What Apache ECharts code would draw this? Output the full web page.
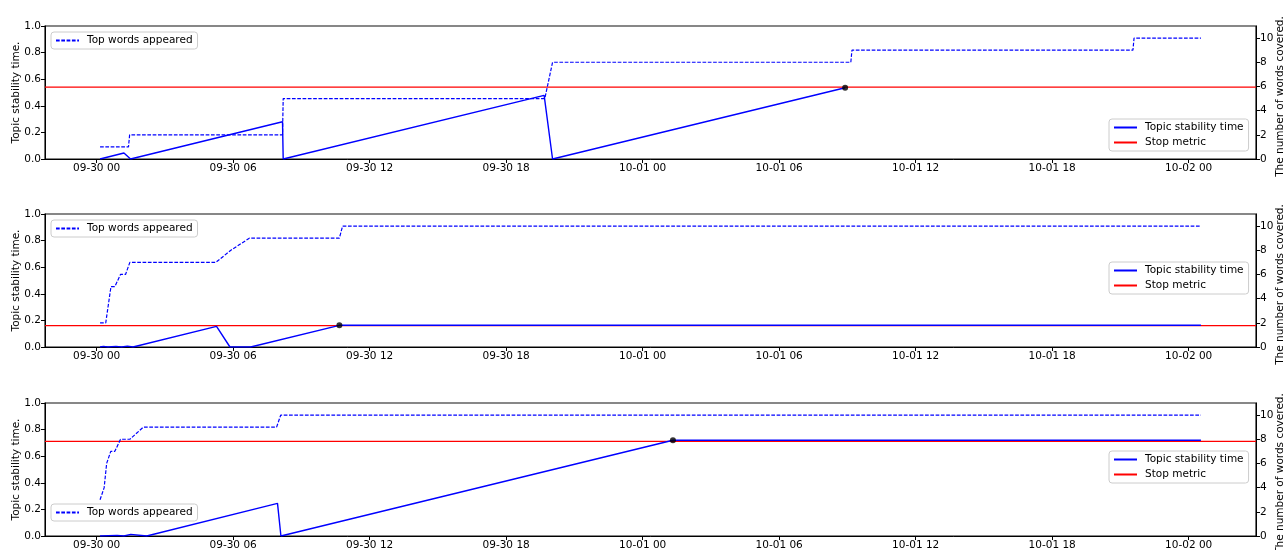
<!DOCTYPE html>
<html>
<head>
<meta charset="utf-8">
<title>Topic stability</title>
<script src="https://cdn.jsdelivr.net/npm/echarts@6/dist/echarts.min.js"></script>
<style>
  html, body { margin: 0; padding: 0; background: #fff; }
  #topicStability { width: 1284px; height: 550px; }
</style>
</head>
<body>
<div id="topicStability"></div>
<script>
// x values are hours after 09-30 00:00
const tickHours = [0, 6, 12, 18, 24, 30, 36, 42, 48];
const rightTicks = [0, 2, 4, 6, 8, 10];
const stopMetric = [0.54, 0.16, 0.712];

// [hour, number of top words covered]
const words1 = [[0.15, 1], [1.40, 1], [1.45, 2], [8.17, 2], [8.2, 5], [19.7, 5], [20.04, 8],
  [33.15, 8], [33.2, 9], [45.55, 9], [45.6, 10], [48.54, 10]];
const words2 = [[0.15, 2], [0.40, 2], [0.63, 5], [0.80, 5], [1.05, 6], [1.27, 6], [1.46, 7],
  [5.24, 7], [5.9, 8], [6.71, 9], [10.67, 9], [10.81, 10], [48.54, 10]];
const words3 = [[0.15, 3], [0.33, 4], [0.44, 6], [0.62, 7], [0.80, 7], [1.05, 8], [1.46, 8],
  [2.05, 9], [7.91, 9], [8.09, 10], [48.54, 10]];

// [hour, topic stability time]
const stab1 = [[0.15, 0], [1.2, 0.045], [1.49, 0], [8.17, 0.28], [8.2, 0], [19.67, 0.478],
  [20.04, 0], [32.9, 0.536]];
const stab2 = [[0.15, 0], [0.3, 0.005], [0.5, 0], [0.85, 0.005], [1.1, 0], [1.35, 0.007],
  [1.6, 0], [5.27, 0.155], [5.86, 0], [6.77, 0], [10.67, 0.163], [48.54, 0.163]];
const stab3 = [[0.15, 0], [0.9, 0.005], [1.2, 0], [1.5, 0.012], [2.2, 0], [7.95, 0.245],
  [8.1, 0], [25.33, 0.72], [48.54, 0.72]];

// where the stability time reached the stop metric
const stopPoints = [[32.9, 0.536], [10.67, 0.163], [25.33, 0.72]];

const wordsList = [words1, words2, words3];
const stabList = [stab1, stab2, stab3];

const T0 = new Date(2019, 8, 30, 0, 0, 0).getTime();
const H = 3600 * 1000;
const pad = n => (n < 10 ? '0' : '') + n;
const fmtHour = h => {
  const d = new Date(T0 + h * H);
  return pad(d.getMonth() + 1) + '-' + pad(d.getDate()) + ' ' + pad(d.getHours());
};

const FONT = 'DejaVu Sans';
const xMin = -2.27, xMax = 50.96;
const gridLeft = 45, gridRight = 28, gridHeight = 133;
const gridTops = [26, 214, 403];
const leftLegendTops = [32, 220, 504];
const rightLegendTops = [119, 262, 451];

const grids = [], xAxes = [], yAxes = [], series = [], legends = [], texts = [];
for (let i = 0; i < 3; i++) {
  grids.push({
    left: gridLeft, right: gridRight, top: gridTops[i], height: gridHeight,
    containLabel: false, outerBoundsMode: 'none',
    show: true, borderColor: '#111', borderWidth: 1.2, backgroundColor: 'transparent'
  });
  xAxes.push({
    type: 'value', gridIndex: i,
    min: xMin, max: xMax,
    axisLine: { show: true, onZero: false, lineStyle: { color: '#000', width: 1 } },
    axisTick: { show: true, length: 4, customValues: tickHours, lineStyle: { color: '#000' } },
    axisLabel: { customValues: tickHours, formatter: fmtHour, color: '#000',
      fontSize: 10.5, fontFamily: FONT, margin: 4 },
    splitLine: { show: false }
  });
  yAxes.push({
    type: 'value', gridIndex: i, position: 'left',
    min: 0, max: 1, interval: 0.2,
    axisLine: { show: true, onZero: false, lineStyle: { color: '#000', width: 1 } },
    axisTick: { show: true, length: 4, lineStyle: { color: '#000' } },
    axisLabel: { formatter: v => v.toFixed(1), color: '#000', fontSize: 10.5, fontFamily: FONT, margin: 4 },
    splitLine: { show: false }
  });
  yAxes.push({
    type: 'value', gridIndex: i, position: 'right',
    min: 0, max: 11,
    axisLine: { show: true, onZero: false, lineStyle: { color: '#000', width: 1 } },
    axisTick: { show: true, length: 4, customValues: rightTicks, lineStyle: { color: '#000' } },
    axisLabel: { customValues: rightTicks, color: '#000', fontSize: 10.5, fontFamily: FONT, margin: 4 },
    splitLine: { show: false }
  });

  // axis titles
  const mid = gridTops[i] + gridHeight / 2;
  texts.push({
    type: 'text', x: 16, y: mid, rotation: Math.PI / 2, silent: true,
    style: { text: 'Topic stability time.', fill: '#000', align: 'center', verticalAlign: 'middle',
      font: '10.5px "DejaVu Sans"' }
  });
  texts.push({
    type: 'text', x: 1280, y: mid + 4, rotation: Math.PI / 2, silent: true,
    style: { text: 'The number of words covered.', fill: '#000', align: 'center', verticalAlign: 'middle',
      font: '10.5px "DejaVu Sans"' }
  });

  series.push({
    name: 'Top words appeared', type: 'line',
    xAxisIndex: i, yAxisIndex: 2 * i + 1,
    data: wordsList[i],
    symbol: 'none',
    itemStyle: { color: '#0000ff' },
    lineStyle: { color: '#0000ff', width: 1.2, type: [3.7, 1.6] }
  });
  // horizontal stop metric line across the whole axis range
  series.push({
    name: 'Stop metric', type: 'line',
    xAxisIndex: i, yAxisIndex: 2 * i,
    data: [[xMin, stopMetric[i]], [xMax, stopMetric[i]]],
    symbol: 'none', z: 2,
    itemStyle: { color: '#ff0000' },
    lineStyle: { color: '#ff0000', width: 1.2 }
  });
  series.push({
    name: 'Topic stability time', type: 'line',
    xAxisIndex: i, yAxisIndex: 2 * i,
    data: stabList[i],
    symbol: 'none', z: 3,
    itemStyle: { color: '#0000ff' },
    lineStyle: { color: '#0000ff', width: 1.4 }
  });
  series.push({
    name: 'stop point', type: 'scatter',
    xAxisIndex: i, yAxisIndex: 2 * i,
    data: [stopPoints[i]],
    symbolSize: 6, z: 5,
    itemStyle: { color: '#000' }
  });

  const legendBase = {
    selectedMode: false,
    itemWidth: 23, itemHeight: 10, itemGap: 4,
    padding: [3, 5, 3, 4],
    backgroundColor: 'rgba(255,255,255,0.8)',
    borderColor: '#cccccc', borderWidth: 1, borderRadius: 3,
    itemStyle: { opacity: 0 },
    textStyle: { color: '#000', fontSize: 10.5, fontFamily: FONT, padding: [0, 0, 0, 3] }
  };
  legends.push(Object.assign({}, legendBase, {
    data: ['Top words appeared'], left: 51, top: leftLegendTops[i]
  }));
  legends.push(Object.assign({}, legendBase, {
    data: ['Topic stability time', 'Stop metric'], orient: 'vertical',
    left: 1109, top: rightLegendTops[i]
  }));
}

const myChart = echarts.init(document.getElementById('topicStability'));
myChart.setOption({
  animation: false,
  grid: grids,
  xAxis: xAxes,
  yAxis: yAxes,
  legend: legends,
  graphic: texts,
  series: series
});
</script>
</body>
</html>
